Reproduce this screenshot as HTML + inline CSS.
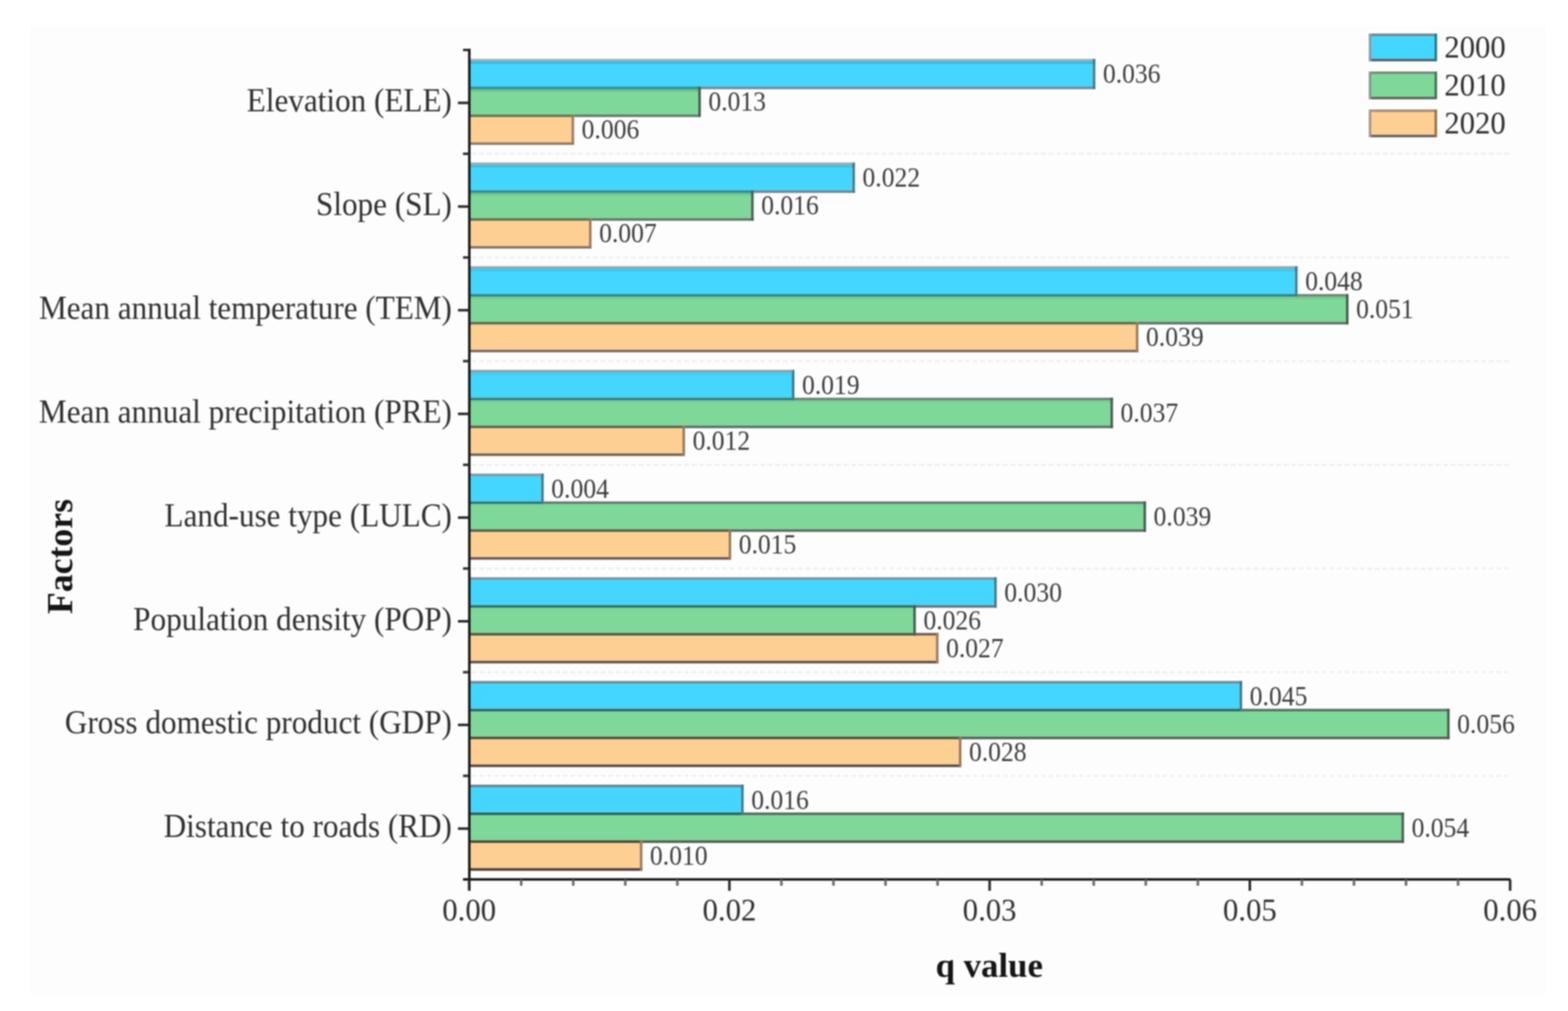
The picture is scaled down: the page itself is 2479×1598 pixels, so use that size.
<!DOCTYPE html>
<html><head><meta charset="utf-8"><title>q value by factor</title>
<style>
html,body{margin:0;padding:0;background:#fff;}
body{width:2479px;height:1598px;overflow:hidden;}
svg{display:block;}
text{font-family:"Liberation Serif","Times New Roman",serif;fill:#303030;}
#g{filter:blur(0.8px);}
.c{font-size:49.3px;}
.v{font-size:40.5px;fill:#3c3c3c;}
.t{font-size:48.6px;}
.b{font-size:55px;font-weight:bold;fill:#151515;}
.f{font-size:56.5px;}
</style></head><body>
<svg width="2479" height="1598" viewBox="0 0 2479 1598">
<rect width="2479" height="1598" fill="#ffffff"/>
<g id="g">
<rect x="47" y="40" width="2398" height="1532" fill="#fdfdfd"/>
<line x1="746" y1="243.1" x2="2388" y2="243.1" stroke="#eeeeee" stroke-width="3" stroke-dasharray="7 5"/>
<line x1="746" y1="407.0" x2="2388" y2="407.0" stroke="#eeeeee" stroke-width="3" stroke-dasharray="7 5"/>
<line x1="746" y1="570.8" x2="2388" y2="570.8" stroke="#eeeeee" stroke-width="3" stroke-dasharray="7 5"/>
<line x1="746" y1="734.7" x2="2388" y2="734.7" stroke="#eeeeee" stroke-width="3" stroke-dasharray="7 5"/>
<line x1="746" y1="898.6" x2="2388" y2="898.6" stroke="#eeeeee" stroke-width="3" stroke-dasharray="7 5"/>
<line x1="746" y1="1062.5" x2="2388" y2="1062.5" stroke="#eeeeee" stroke-width="3" stroke-dasharray="7 5"/>
<line x1="746" y1="1226.3" x2="2388" y2="1226.3" stroke="#eeeeee" stroke-width="3" stroke-dasharray="7 5"/>
<rect x="740.0" y="97.0" width="987.7" height="40" fill="#44d6fe"/>
<rect x="740.0" y="141.0" width="364.0" height="40" fill="#7ed89a"/>
<rect x="740.0" y="185.0" width="163.6" height="40" fill="#fecf92"/>
<rect x="740.0" y="97.0" width="991.7" height="4" fill="#39b9df"/>
<rect x="740.0" y="141.0" width="368.0" height="4" fill="#6cc289"/>
<rect x="740.0" y="93.0" width="991.7" height="4" fill="#a5b1b6"/>
<rect x="740.0" y="137.0" width="368.0" height="4" fill="#3090a4"/>
<rect x="1108.0" y="137.0" width="623.7" height="4" fill="#6a909e"/>
<rect x="740.0" y="181.0" width="167.6" height="4" fill="#5c7e58"/>
<rect x="907.6" y="181.0" width="200.4" height="4" fill="#62806a"/>
<rect x="740.0" y="225.0" width="167.6" height="4" fill="#957a66"/>
<rect x="1727.7" y="93.0" width="4" height="48" fill="#3f7a8a"/>
<rect x="1104.0" y="137.0" width="4" height="48" fill="#455f4c"/>
<rect x="903.6" y="181.0" width="4" height="48" fill="#9a7a5a"/>
<text class="v" transform="translate(1743.7,116.0) scale(1,1.11)" x="0" y="13.7">0.036</text>
<text class="v" transform="translate(1120.0,160.0) scale(1,1.11)" x="0" y="13.7">0.013</text>
<text class="v" transform="translate(919.6,204.0) scale(1,1.11)" x="0" y="13.7">0.006</text>
<text class="c" text-anchor="end" transform="translate(714.5,159.1) scale(1,1.07)" x="0" y="16">Elevation (ELE)</text>
<rect x="724" y="160.6" width="17" height="4" fill="#2a2a2a"/>
<rect x="732" y="241.1" width="9" height="4" fill="#333"/>
<rect x="740.0" y="260.9" width="607.6" height="40" fill="#44d6fe"/>
<rect x="740.0" y="304.9" width="447.5" height="40" fill="#7ed89a"/>
<rect x="740.0" y="348.9" width="191.2" height="40" fill="#fecf92"/>
<rect x="740.0" y="260.9" width="611.6" height="4" fill="#3cc0e6"/>
<rect x="740.0" y="304.9" width="451.5" height="4" fill="#70c78d"/>
<rect x="740.0" y="256.9" width="611.6" height="4" fill="#9daaaf"/>
<rect x="740.0" y="300.9" width="451.5" height="4" fill="#2e899b"/>
<rect x="1191.5" y="300.9" width="160.1" height="4" fill="#658b99"/>
<rect x="740.0" y="344.9" width="195.2" height="4" fill="#577653"/>
<rect x="935.2" y="344.9" width="256.3" height="4" fill="#5f7b66"/>
<rect x="740.0" y="388.9" width="195.2" height="4" fill="#8a715e"/>
<rect x="1347.6" y="256.9" width="4" height="48" fill="#3f7a8a"/>
<rect x="1187.5" y="300.9" width="4" height="48" fill="#455f4c"/>
<rect x="931.2" y="344.9" width="4" height="48" fill="#9a7a5a"/>
<text class="v" transform="translate(1363.6,279.9) scale(1,1.11)" x="0" y="13.7">0.022</text>
<text class="v" transform="translate(1203.5,323.9) scale(1,1.11)" x="0" y="13.7">0.016</text>
<text class="v" transform="translate(947.2,367.9) scale(1,1.11)" x="0" y="13.7">0.007</text>
<text class="c" text-anchor="end" transform="translate(714.5,323.0) scale(1,1.07)" x="0" y="16">Slope (SL)</text>
<rect x="724" y="324.5" width="17" height="4" fill="#2a2a2a"/>
<rect x="732" y="405.0" width="9" height="4" fill="#333"/>
<rect x="740.0" y="424.8" width="1307.4" height="40" fill="#44d6fe"/>
<rect x="740.0" y="468.8" width="1388.0" height="40" fill="#7ed89a"/>
<rect x="740.0" y="512.8" width="1055.8" height="40" fill="#fecf92"/>
<rect x="740.0" y="424.8" width="1311.4" height="4" fill="#3ec6ed"/>
<rect x="740.0" y="468.8" width="1392.0" height="4" fill="#74cc91"/>
<rect x="740.0" y="420.8" width="1311.4" height="4" fill="#95a3a9"/>
<rect x="740.0" y="464.8" width="1311.4" height="4" fill="#2c8191"/>
<rect x="2051.4" y="464.8" width="80.6" height="4" fill="#748177"/>
<rect x="740.0" y="508.8" width="1059.8" height="4" fill="#536e4e"/>
<rect x="1799.8" y="508.8" width="332.2" height="4" fill="#5b7561"/>
<rect x="740.0" y="552.8" width="1059.8" height="4" fill="#806857"/>
<rect x="2047.4" y="420.8" width="4" height="48" fill="#3f7a8a"/>
<rect x="2128.0" y="464.8" width="4" height="48" fill="#455f4c"/>
<rect x="1795.8" y="508.8" width="4" height="48" fill="#9a7a5a"/>
<text class="v" transform="translate(2063.4,443.8) scale(1,1.11)" x="0" y="13.7">0.048</text>
<text class="v" transform="translate(2144.0,487.8) scale(1,1.11)" x="0" y="13.7">0.051</text>
<text class="v" transform="translate(1811.8,531.8) scale(1,1.11)" x="0" y="13.7">0.039</text>
<text class="c" text-anchor="end" transform="translate(714.5,486.8) scale(1,1.07)" x="0" y="16">Mean annual temperature (TEM)</text>
<rect x="724" y="488.3" width="17" height="4" fill="#2a2a2a"/>
<rect x="732" y="568.8" width="9" height="4" fill="#333"/>
<rect x="740.0" y="588.7" width="512.0" height="40" fill="#44d6fe"/>
<rect x="740.0" y="632.7" width="1015.6" height="40" fill="#7ed89a"/>
<rect x="740.0" y="676.7" width="339.0" height="40" fill="#fecf92"/>
<rect x="740.0" y="588.7" width="516.0" height="4" fill="#41cdf4"/>
<rect x="740.0" y="632.7" width="1019.6" height="4" fill="#78d195"/>
<rect x="740.0" y="584.7" width="516.0" height="4" fill="#8d9ca2"/>
<rect x="740.0" y="628.7" width="516.0" height="4" fill="#2a7a88"/>
<rect x="1256.0" y="628.7" width="503.6" height="4" fill="#6e7c72"/>
<rect x="740.0" y="672.7" width="343.0" height="4" fill="#4e6649"/>
<rect x="1083.0" y="672.7" width="676.6" height="4" fill="#58705d"/>
<rect x="740.0" y="716.7" width="343.0" height="4" fill="#755f4f"/>
<rect x="1252.0" y="584.7" width="4" height="48" fill="#3f7a8a"/>
<rect x="1755.6" y="628.7" width="4" height="48" fill="#455f4c"/>
<rect x="1079.0" y="672.7" width="4" height="48" fill="#9a7a5a"/>
<text class="v" transform="translate(1268.0,607.7) scale(1,1.11)" x="0" y="13.7">0.019</text>
<text class="v" transform="translate(1771.6,651.7) scale(1,1.11)" x="0" y="13.7">0.037</text>
<text class="v" transform="translate(1095.0,695.7) scale(1,1.11)" x="0" y="13.7">0.012</text>
<text class="c" text-anchor="end" transform="translate(714.5,650.7) scale(1,1.07)" x="0" y="16">Mean annual precipitation (PRE)</text>
<rect x="724" y="652.2" width="17" height="4" fill="#2a2a2a"/>
<rect x="732" y="732.7" width="9" height="4" fill="#333"/>
<rect x="740.0" y="752.6" width="115.6" height="40" fill="#44d6fe"/>
<rect x="740.0" y="796.6" width="1067.8" height="40" fill="#7ed89a"/>
<rect x="740.0" y="840.6" width="412.0" height="40" fill="#fecf92"/>
<rect x="740.0" y="752.6" width="119.6" height="4" fill="#43d4fb"/>
<rect x="740.0" y="796.6" width="1071.8" height="4" fill="#7cd699"/>
<rect x="740.0" y="748.6" width="119.6" height="4" fill="#86959c"/>
<rect x="740.0" y="792.6" width="119.6" height="4" fill="#29727e"/>
<rect x="859.6" y="792.6" width="952.2" height="4" fill="#68766c"/>
<rect x="740.0" y="836.6" width="416.0" height="4" fill="#4a5e45"/>
<rect x="1156.0" y="836.6" width="655.8" height="4" fill="#546a59"/>
<rect x="740.0" y="880.6" width="416.0" height="4" fill="#6a5547"/>
<rect x="855.6" y="748.6" width="4" height="48" fill="#3f7a8a"/>
<rect x="1807.8" y="792.6" width="4" height="48" fill="#455f4c"/>
<rect x="1152.0" y="836.6" width="4" height="48" fill="#9a7a5a"/>
<text class="v" transform="translate(871.6,771.6) scale(1,1.11)" x="0" y="13.7">0.004</text>
<text class="v" transform="translate(1823.8,815.6) scale(1,1.11)" x="0" y="13.7">0.039</text>
<text class="v" transform="translate(1168.0,859.6) scale(1,1.11)" x="0" y="13.7">0.015</text>
<text class="c" text-anchor="end" transform="translate(714.5,814.6) scale(1,1.07)" x="0" y="16">Land-use type (LULC)</text>
<rect x="724" y="816.1" width="17" height="4" fill="#2a2a2a"/>
<rect x="732" y="896.6" width="9" height="4" fill="#333"/>
<rect x="740.0" y="916.5" width="831.8" height="40" fill="#44d6fe"/>
<rect x="740.0" y="960.5" width="703.9" height="40" fill="#7ed89a"/>
<rect x="740.0" y="1004.5" width="739.7" height="40" fill="#fecf92"/>
<rect x="740.0" y="916.5" width="835.8" height="4" fill="#44d6fe"/>
<rect x="740.0" y="960.5" width="707.9" height="4" fill="#7ed89a"/>
<rect x="740.0" y="912.5" width="835.8" height="4" fill="#7e8e95"/>
<rect x="740.0" y="956.5" width="707.9" height="4" fill="#276b75"/>
<rect x="1447.9" y="956.5" width="127.9" height="4" fill="#537583"/>
<rect x="740.0" y="1000.5" width="707.9" height="4" fill="#455640"/>
<rect x="1447.9" y="1000.5" width="35.8" height="4" fill="#675b53"/>
<rect x="740.0" y="1044.5" width="743.7" height="4" fill="#5f4c3f"/>
<rect x="1571.8" y="912.5" width="4" height="48" fill="#3f7a8a"/>
<rect x="1443.9" y="956.5" width="4" height="48" fill="#455f4c"/>
<rect x="1479.7" y="1000.5" width="4" height="48" fill="#9a7a5a"/>
<text class="v" transform="translate(1587.8,935.5) scale(1,1.11)" x="0" y="13.7">0.030</text>
<text class="v" transform="translate(1459.9,979.5) scale(1,1.11)" x="0" y="13.7">0.026</text>
<text class="v" transform="translate(1495.7,1023.5) scale(1,1.11)" x="0" y="13.7">0.027</text>
<text class="c" text-anchor="end" transform="translate(714.5,978.5) scale(1,1.07)" x="0" y="16">Population density (POP)</text>
<rect x="724" y="980.0" width="17" height="4" fill="#2a2a2a"/>
<rect x="732" y="1060.5" width="9" height="4" fill="#333"/>
<rect x="740.0" y="1080.4" width="1219.8" height="40" fill="#44d6fe"/>
<rect x="740.0" y="1124.4" width="1547.8" height="40" fill="#7ed89a"/>
<rect x="740.0" y="1168.4" width="776.0" height="40" fill="#fecf92"/>
<rect x="740.0" y="1080.4" width="1223.8" height="4" fill="#44d6fe"/>
<rect x="740.0" y="1124.4" width="1551.8" height="4" fill="#7ed89a"/>
<rect x="740.0" y="1076.4" width="1223.8" height="4" fill="#76878f"/>
<rect x="740.0" y="1120.4" width="1223.8" height="4" fill="#25636b"/>
<rect x="1963.8" y="1120.4" width="328.0" height="4" fill="#5c6b61"/>
<rect x="740.0" y="1164.4" width="780.0" height="4" fill="#414e3b"/>
<rect x="1520.0" y="1164.4" width="771.8" height="4" fill="#4d5f50"/>
<rect x="740.0" y="1208.4" width="780.0" height="4" fill="#554338"/>
<rect x="1959.8" y="1076.4" width="4" height="48" fill="#3f7a8a"/>
<rect x="2287.8" y="1120.4" width="4" height="48" fill="#455f4c"/>
<rect x="1516.0" y="1164.4" width="4" height="48" fill="#9a7a5a"/>
<text class="v" transform="translate(1975.8,1099.4) scale(1,1.11)" x="0" y="13.7">0.045</text>
<text class="v" transform="translate(2303.8,1143.4) scale(1,1.11)" x="0" y="13.7">0.056</text>
<text class="v" transform="translate(1532.0,1187.4) scale(1,1.11)" x="0" y="13.7">0.028</text>
<text class="c" text-anchor="end" transform="translate(714.5,1142.3) scale(1,1.07)" x="0" y="16">Gross domestic product (GDP)</text>
<rect x="724" y="1143.8" width="17" height="4" fill="#2a2a2a"/>
<rect x="732" y="1224.3" width="9" height="4" fill="#333"/>
<rect x="740.0" y="1244.3" width="431.7" height="40" fill="#44d6fe"/>
<rect x="740.0" y="1288.3" width="1475.7" height="40" fill="#7ed89a"/>
<rect x="740.0" y="1332.3" width="271.6" height="40" fill="#fecf92"/>
<rect x="740.0" y="1244.3" width="435.7" height="4" fill="#44d6fe"/>
<rect x="740.0" y="1288.3" width="1479.7" height="4" fill="#7ed89a"/>
<rect x="740.0" y="1240.3" width="435.7" height="4" fill="#6e8088"/>
<rect x="740.0" y="1284.3" width="435.7" height="4" fill="#235c62"/>
<rect x="1175.7" y="1284.3" width="1044.0" height="4" fill="#56665c"/>
<rect x="740.0" y="1328.3" width="275.6" height="4" fill="#3c4636"/>
<rect x="1015.6" y="1328.3" width="1204.1" height="4" fill="#4a5a4c"/>
<rect x="740.0" y="1372.3" width="275.6" height="4" fill="#4a3a30"/>
<rect x="1171.7" y="1240.3" width="4" height="48" fill="#3f7a8a"/>
<rect x="2215.7" y="1284.3" width="4" height="48" fill="#455f4c"/>
<rect x="1011.6" y="1328.3" width="4" height="48" fill="#9a7a5a"/>
<text class="v" transform="translate(1187.7,1263.3) scale(1,1.11)" x="0" y="13.7">0.016</text>
<text class="v" transform="translate(2231.7,1307.3) scale(1,1.11)" x="0" y="13.7">0.054</text>
<text class="v" transform="translate(1027.6,1351.3) scale(1,1.11)" x="0" y="13.7">0.010</text>
<text class="c" text-anchor="end" transform="translate(714.5,1306.2) scale(1,1.07)" x="0" y="16">Distance to roads (RD)</text>
<rect x="724" y="1307.7" width="17" height="4" fill="#2a2a2a"/>
<rect x="732" y="77" width="9" height="4" fill="#333"/>
<rect x="740" y="77" width="4" height="1331" fill="#1c1c1c"/>
<rect x="732" y="1388" width="1656" height="4" fill="#1c1c1c"/>
<rect x="739.7" y="1390" width="4" height="18" fill="#2a2a2a"/>
<text class="t" text-anchor="middle" transform="translate(741.7,1438) scale(1,1.05)" x="0" y="16.5">0.00</text>
<rect x="1151.2" y="1390" width="4" height="18" fill="#2a2a2a"/>
<text class="t" text-anchor="middle" transform="translate(1153.2,1438) scale(1,1.05)" x="0" y="16.5">0.02</text>
<rect x="1562.6" y="1390" width="4" height="18" fill="#2a2a2a"/>
<text class="t" text-anchor="middle" transform="translate(1564.6,1438) scale(1,1.05)" x="0" y="16.5">0.03</text>
<rect x="1974.0" y="1390" width="4" height="18" fill="#2a2a2a"/>
<text class="t" text-anchor="middle" transform="translate(1976.0,1438) scale(1,1.05)" x="0" y="16.5">0.05</text>
<rect x="2385.5" y="1390" width="4" height="18" fill="#2a2a2a"/>
<text class="t" text-anchor="middle" transform="translate(2387.5,1438) scale(1,1.05)" x="0" y="16.5">0.06</text>
<rect x="822.0" y="1390" width="4" height="10" fill="#6a6a6a"/>
<rect x="904.3" y="1390" width="4" height="10" fill="#6a6a6a"/>
<rect x="986.6" y="1390" width="4" height="10" fill="#6a6a6a"/>
<rect x="1068.9" y="1390" width="4" height="10" fill="#6a6a6a"/>
<rect x="1233.4" y="1390" width="4" height="10" fill="#6a6a6a"/>
<rect x="1315.7" y="1390" width="4" height="10" fill="#6a6a6a"/>
<rect x="1398.0" y="1390" width="4" height="10" fill="#6a6a6a"/>
<rect x="1480.3" y="1390" width="4" height="10" fill="#6a6a6a"/>
<rect x="1644.9" y="1390" width="4" height="10" fill="#6a6a6a"/>
<rect x="1727.2" y="1390" width="4" height="10" fill="#6a6a6a"/>
<rect x="1809.5" y="1390" width="4" height="10" fill="#6a6a6a"/>
<rect x="1891.8" y="1390" width="4" height="10" fill="#6a6a6a"/>
<rect x="2056.3" y="1390" width="4" height="10" fill="#6a6a6a"/>
<rect x="2138.6" y="1390" width="4" height="10" fill="#6a6a6a"/>
<rect x="2220.9" y="1390" width="4" height="10" fill="#6a6a6a"/>
<rect x="2303.2" y="1390" width="4" height="10" fill="#6a6a6a"/>
<rect x="2164" y="53" width="108" height="44" fill="#44d6fe"/>
<rect x="2164" y="53" width="108" height="4" fill="#7a8488"/>
<rect x="2164" y="93" width="108" height="4" fill="#4f6670"/>
<rect x="2164" y="53" width="4" height="44" fill="#8a9ea8"/>
<rect x="2268" y="53" width="4" height="44" fill="#1f7a99"/>
<text class="t" transform="translate(2283.5,73.7) scale(1,1.05)" x="0" y="16.5">2000</text>
<rect x="2164" y="113" width="108" height="44" fill="#7ed89a"/>
<rect x="2164" y="113" width="108" height="4" fill="#7a8a80"/>
<rect x="2164" y="153" width="108" height="4" fill="#5a6a60"/>
<rect x="2164" y="113" width="4" height="44" fill="#8a9a8e"/>
<rect x="2268" y="113" width="4" height="44" fill="#3f7a50"/>
<text class="t" transform="translate(2283.5,133.7) scale(1,1.05)" x="0" y="16.5">2010</text>
<rect x="2164" y="173" width="108" height="44" fill="#fecf92"/>
<rect x="2164" y="173" width="108" height="4" fill="#a09080"/>
<rect x="2164" y="213" width="108" height="4" fill="#6a6260"/>
<rect x="2164" y="173" width="4" height="44" fill="#a89888"/>
<rect x="2268" y="173" width="4" height="44" fill="#a07040"/>
<text class="t" transform="translate(2283.5,193.7) scale(1,1.05)" x="0" y="16.5">2020</text>
<text x="1564" y="1543.5" class="b" text-anchor="middle">q value</text>
<text transform="translate(114,879.6) rotate(-90)" x="0" y="0" class="b f" text-anchor="middle">Factors</text>
</g>
</svg>
</body></html>
